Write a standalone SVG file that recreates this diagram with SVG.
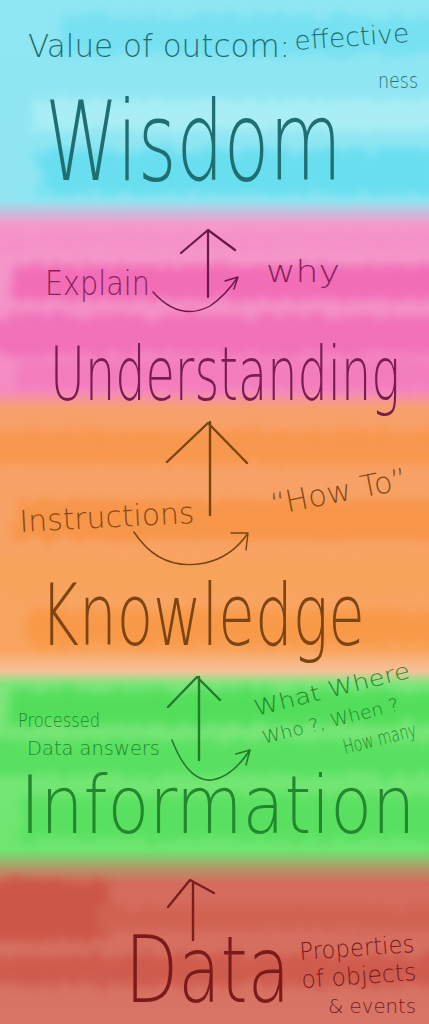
<svg xmlns="http://www.w3.org/2000/svg" width="429" height="1024" viewBox="0 0 429 1024">
<defs>
<linearGradient id="bg" x1="0" y1="0" x2="0" y2="1024" gradientUnits="userSpaceOnUse">
<stop offset="0" stop-color="#8fe7f3"/>
<stop offset="0.195" stop-color="#8fe6f2"/>
<stop offset="0.218" stop-color="#f49ccb"/>
<stop offset="0.38" stop-color="#f58ac4"/>
<stop offset="0.4" stop-color="#f7a06a"/>
<stop offset="0.635" stop-color="#f9a560"/>
<stop offset="0.655" stop-color="#f6c19a"/>
<stop offset="0.668" stop-color="#7ee67c"/>
<stop offset="0.83" stop-color="#6ee670"/>
<stop offset="0.85" stop-color="#b89066"/>
<stop offset="0.862" stop-color="#d46c5d"/>
<stop offset="1" stop-color="#d87566"/>
</linearGradient>
<filter id="soft" x="-20%" y="-20%" width="140%" height="140%">
<feTurbulence type="fractalNoise" baseFrequency="0.12 0.03" numOctaves="3" seed="5" result="n"/>
<feDisplacementMap in="SourceGraphic" in2="n" scale="22" xChannelSelector="R" yChannelSelector="G"/>
<feGaussianBlur stdDeviation="5"/>
</filter>
</defs>
<style>
.t{font-family:"DejaVu Sans","Liberation Sans",sans-serif;font-weight:200}
.ln{fill:none;stroke-linecap:round;stroke-linejoin:round}
</style>
<rect width="429" height="1024" fill="url(#bg)"/>
<g id="streaks" filter="url(#soft)" opacity="0.75">
<rect x="60" y="15" width="400" height="40" fill="#6fdff0"/>
<rect x="30" y="100" width="420" height="30" fill="#b4f1f6"/>
<rect x="40" y="150" width="400" height="45" fill="#5cdcef"/>
<rect x="-20" y="230" width="470" height="22" fill="#f68ec6"/>
<rect x="10" y="265" width="440" height="35" fill="#f160b0"/>
<rect x="-20" y="315" width="470" height="40" fill="#f067b4"/>
<rect x="20" y="360" width="430" height="30" fill="#f278bb"/>
<rect x="-20" y="430" width="470" height="35" fill="#f89444"/>
<rect x="15" y="500" width="440" height="40" fill="#f7913f"/>
<rect x="-20" y="560" width="470" height="35" fill="#f8a359"/>
<rect x="25" y="610" width="430" height="35" fill="#f8963f"/>
<rect x="10" y="690" width="440" height="35" fill="#45dc51"/>
<rect x="-20" y="740" width="470" height="35" fill="#4fde5a"/>
<rect x="20" y="795" width="430" height="45" fill="#52df5c"/>
<rect x="-20" y="880" width="130" height="60" fill="#c9503f"/>
<rect x="100" y="905" width="350" height="25" fill="#d05e4e"/>
<rect x="-20" y="955" width="470" height="30" fill="#cc5546"/>
</g>
<g id="connectors" class="ln">
<g stroke="#6a1a4a" stroke-width="2.2">
<path d="M208 297 L208 230 M181 253 L208 230 L235 250"/>
<path d="M153 292 Q180 322 210 306 Q225 296 238 277 M225 281 L238 277 L234 289" stroke-width="1.4"/>
</g>
<g stroke="#7a4410" stroke-width="2.4">
<path d="M210 515 L210 422 M167 462 L208 423 L247 463"/>
<path d="M134 532 Q160 572 205 563 Q232 557 248 533 M231 533 L248 533 L246 550" stroke-width="1.4"/>
</g>
<g stroke="#217c2a" stroke-width="2.4">
<path d="M199 760 L199 677 M168 707 L197 677 L220 700"/>
<path d="M172 740 Q188 782 212 780 Q232 777 250 750 M236 754 L250 750 L246 765" stroke-width="1.6"/>
</g>
<g stroke="#7a1e1e" stroke-width="2.4">
<path d="M193 940 L193 882 M168 907 L190 880 L214 893"/>
</g>
</g>
<g id="wisdom">
<text class="t" x="28" y="57" font-size="32" fill="#1f6f72" textLength="262" lengthAdjust="spacingAndGlyphs">Value of outcom:</text>
<text class="t" x="295" y="50" font-size="26" fill="#1f6f72" textLength="115" lengthAdjust="spacingAndGlyphs" transform="rotate(-4 295 50)">effective</text>
<text class="t" x="378" y="88" font-size="22" fill="#1f6f72" textLength="40" lengthAdjust="spacingAndGlyphs">ness</text>
<text class="t" x="0" y="0" font-size="110" fill="#1f6f72" textLength="441" lengthAdjust="spacingAndGlyphs" transform="translate(45 180) scale(0.673 1)">Wisdom</text>
</g>
<g id="understanding">
<text class="t" x="45" y="295" font-size="34" fill="#8a1f5c" textLength="105" lengthAdjust="spacingAndGlyphs">Explain</text>
<text class="t" x="266" y="282" font-size="30" fill="#8a1f5c" textLength="74" lengthAdjust="spacingAndGlyphs">why</text>
<text class="t" x="0" y="0" font-size="74" fill="#7a1c52" textLength="545" lengthAdjust="spacingAndGlyphs" transform="translate(50 400) scale(0.642 1)">Understanding</text>
</g>
<g id="knowledge">
<text class="t" x="20" y="532" font-size="30" fill="#8a4a14" textLength="175" lengthAdjust="spacingAndGlyphs" transform="rotate(-3 20 532)">Instructions</text>
<text class="t" x="273" y="515" font-size="30" fill="#8a4a14" textLength="138" lengthAdjust="spacingAndGlyphs" transform="rotate(-11 273 515)">“How To”</text>
<text class="t" x="0" y="0" font-size="86" fill="#7e4412" textLength="473" lengthAdjust="spacingAndGlyphs" transform="translate(40 645) scale(0.687 1)">Knowledge</text>
</g>
<g id="information">
<text class="t" x="18" y="727" font-size="20" fill="#1f8a2a" textLength="82" lengthAdjust="spacingAndGlyphs">Processed</text>
<text class="t" x="27" y="755" font-size="20" fill="#1f8a2a" textLength="133" lengthAdjust="spacingAndGlyphs">Data answers</text>
<text class="t" x="256" y="716" font-size="22" fill="#1f8a2a" textLength="160" lengthAdjust="spacingAndGlyphs" transform="rotate(-14 256 716)">What Where</text>
<text class="t" x="264" y="744" font-size="18" fill="#1f8a2a" textLength="140" lengthAdjust="spacingAndGlyphs" transform="rotate(-14 264 744)">Who ?, When ?</text>
<text class="t" x="0" y="0" font-size="20" fill="#1f8a2a" textLength="106" lengthAdjust="spacingAndGlyphs" transform="translate(345 754) rotate(-14) scale(0.707 1)">How many</text>
<text class="t" x="0" y="0" font-size="80" fill="#23872d" textLength="465" lengthAdjust="spacingAndGlyphs" transform="translate(20 833) scale(0.85 1)">Information</text>
</g>
<g id="data">
<text class="t" x="0" y="0" font-size="92" fill="#7a1a1a" textLength="220" lengthAdjust="spacingAndGlyphs" transform="translate(125 1002) scale(0.75 1)">Data</text>
<text class="t" x="300" y="960" font-size="24" fill="#7a1a1a" textLength="115" lengthAdjust="spacingAndGlyphs" transform="rotate(-4 300 960)">Properties</text>
<text class="t" x="302" y="988" font-size="24" fill="#7a1a1a" textLength="115" lengthAdjust="spacingAndGlyphs" transform="rotate(-4 302 988)">of objects</text>
<text class="t" x="328" y="1013" font-size="20" fill="#7a1a1a" textLength="88" lengthAdjust="spacingAndGlyphs">&amp; events</text>
</g>
</svg>
